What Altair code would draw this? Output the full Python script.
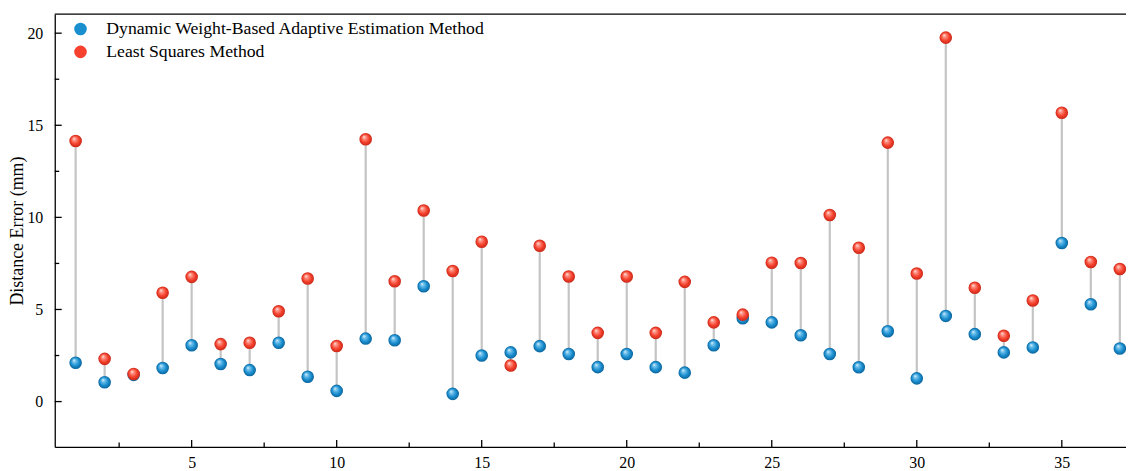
import altair as alt
import pandas as pd

# ---- data ----
sample_idx = list(range(1, 38))
dynamic_err = [2.11, 1.05, 1.45, 1.82, 3.06, 2.04, 1.71, 3.19, 1.35, 0.58,
               3.42, 3.33, 6.26, 0.42, 2.50, 2.67, 3.01, 2.58, 1.87, 2.58,
               1.87, 1.57, 3.06, 4.52, 4.30, 3.60, 2.58, 1.86, 3.82, 1.26,
               4.65, 3.66, 2.67, 2.94, 8.61, 5.28, 2.88]
ls_err = [14.15, 2.32, 1.50, 5.91, 6.77, 3.12, 3.19, 4.90, 6.68, 3.02,
          14.24, 6.53, 10.37, 7.09, 8.68, 1.96, 8.46, 6.79, 3.73, 6.79,
          3.73, 6.50, 4.30, 4.72, 7.54, 7.52, 10.13, 8.35, 14.06, 6.95,
          19.76, 6.18, 3.57, 5.49, 15.68, 7.58, 7.20]
series_names = ["Dynamic Weight-Based Adaptive Estimation Method", "Least Squares Method"]
x_major = [5, 10, 15, 20, 25, 30, 35]
x_minor = [2.5, 7.5, 12.5, 17.5, 22.5, 27.5, 32.5]
y_major = [0, 5, 10, 15, 20]
y_minor = [2.5, 7.5, 12.5, 17.5]

W, H = 1077, 435
FONT = "Liberation Serif"
BLUE, RED = "#1a8fd0", "#f5412d"

df = pd.DataFrame({"idx": sample_idx, "dyn": dynamic_err, "ls": ls_err})
long = pd.concat([
    pd.DataFrame({"idx": sample_idx, "value": dynamic_err, "series": series_names[0]}),
    pd.DataFrame({"idx": sample_idx, "value": ls_err, "series": series_names[1]}),
])

xs = alt.Scale(domain=[0.28, 37.213], nice=False, zero=False)
ys = alt.Scale(domain=[-2.46, 21.03], nice=False, zero=False)

x_axis = alt.Axis(values=x_major, ticks=False, tickSize=0, grid=False, title=None,
                  labelFont=FONT, labelFontSize=16, labelColor="black",
                  labelPadding=8, domainColor="black", domainWidth=1.3)
y_axis = alt.Axis(values=y_major, ticks=False, tickSize=0, grid=False,
                  title="Distance Error (mm)", titleFont=FONT, titleFontSize=18,
                  titleFontWeight="normal", titleColor="black",
                  titleX=-37, titleY=H / 2, titleAngle=270, titleAlign="center",
                  titleBaseline="middle",
                  labelFont=FONT, labelFontSize=16, labelColor="black",
                  labelPadding=12, domainColor="black", domainWidth=1.3)


def X(field):
    return alt.X(field, scale=xs, axis=x_axis, title=None)


def Y(field):
    return alt.Y(field, scale=ys, axis=y_axis, title="Distance Error (mm)")


def sphere(light, main, dark):
    return {
        "gradient": "radial",
        "x1": 0.36, "y1": 0.3, "r1": 0.0,
        "x2": 0.5, "y2": 0.5, "r2": 0.5,
        "stops": [
            {"offset": 0.0, "color": "#ffffff"},
            {"offset": 0.22, "color": light},
            {"offset": 0.65, "color": main},
            {"offset": 1.0, "color": dark},
        ],
    }


stems = alt.Chart(df).mark_rule(color="#c4c4c4", strokeWidth=2.2).encode(
    x=X("idx:Q"), y=Y("dyn:Q"), y2="ls:Q")

legend_layer = alt.Chart(long).mark_circle(size=160, opacity=0).encode(
    x=X("idx:Q"),
    y=Y("value:Q"),
    color=alt.Color("series:N",
                    scale=alt.Scale(domain=series_names, range=[BLUE, RED]),
                    legend=alt.Legend(title=None, orient="none", legendX=17, legendY=6,
                                      labelFont=FONT, labelFontSize=17.8, labelColor="black",
                                      labelLimit=0,
                                      symbolType="circle", symbolSize=160, symbolOpacity=1,
                                      symbolStrokeWidth=0, labelOffset=17, rowPadding=4,
                                      padding=0)),
)

blue_pts = alt.Chart(df).mark_circle(size=160, opacity=1,
                                     fill=sphere("#7cc6ee", "#1a8fd0", "#0b649c")).encode(
    x=X("idx:Q"), y=Y("dyn:Q"))
red_pts = alt.Chart(df).mark_circle(size=160, opacity=1,
                                    fill=sphere("#ff9a8c", "#f5412d", "#c92818")).encode(
    x=X("idx:Q"), y=Y("ls:Q"))

# inward ticks
ymaj = alt.Chart(pd.DataFrame({"t": y_major})).mark_rule(color="black", strokeWidth=1.3).encode(
    y=Y("t:Q"), x=alt.value(0), x2=alt.value(7))
ymin = alt.Chart(pd.DataFrame({"t": y_minor})).mark_rule(color="black", strokeWidth=1.3).encode(
    y=Y("t:Q"), x=alt.value(0), x2=alt.value(4.5))
xmaj = alt.Chart(pd.DataFrame({"t": x_major})).mark_rule(color="black", strokeWidth=1.3).encode(
    x=X("t:Q"), y=alt.value(H), y2=alt.value(H - 7))
xmin = alt.Chart(pd.DataFrame({"t": x_minor})).mark_rule(color="black", strokeWidth=1.3).encode(
    x=X("t:Q"), y=alt.value(H), y2=alt.value(H - 4.5))
top_line = alt.Chart(pd.DataFrame({"t": [0]})).mark_rule(color="black", strokeWidth=1.3).encode(
    x=alt.value(0), x2=alt.value(W), y=alt.value(0))

chart = alt.layer(stems, legend_layer, blue_pts, red_pts, ymaj, ymin, xmaj, xmin, top_line).properties(
    width=W, height=H,
    autosize=alt.AutoSizeParams(type="none"),
    padding={"left": 47, "top": 5, "right": 0, "bottom": 23},
    background="white",
).configure_view(stroke=None)

chart.save("out.html", embed_options={"renderer": "svg", "actions": False})
